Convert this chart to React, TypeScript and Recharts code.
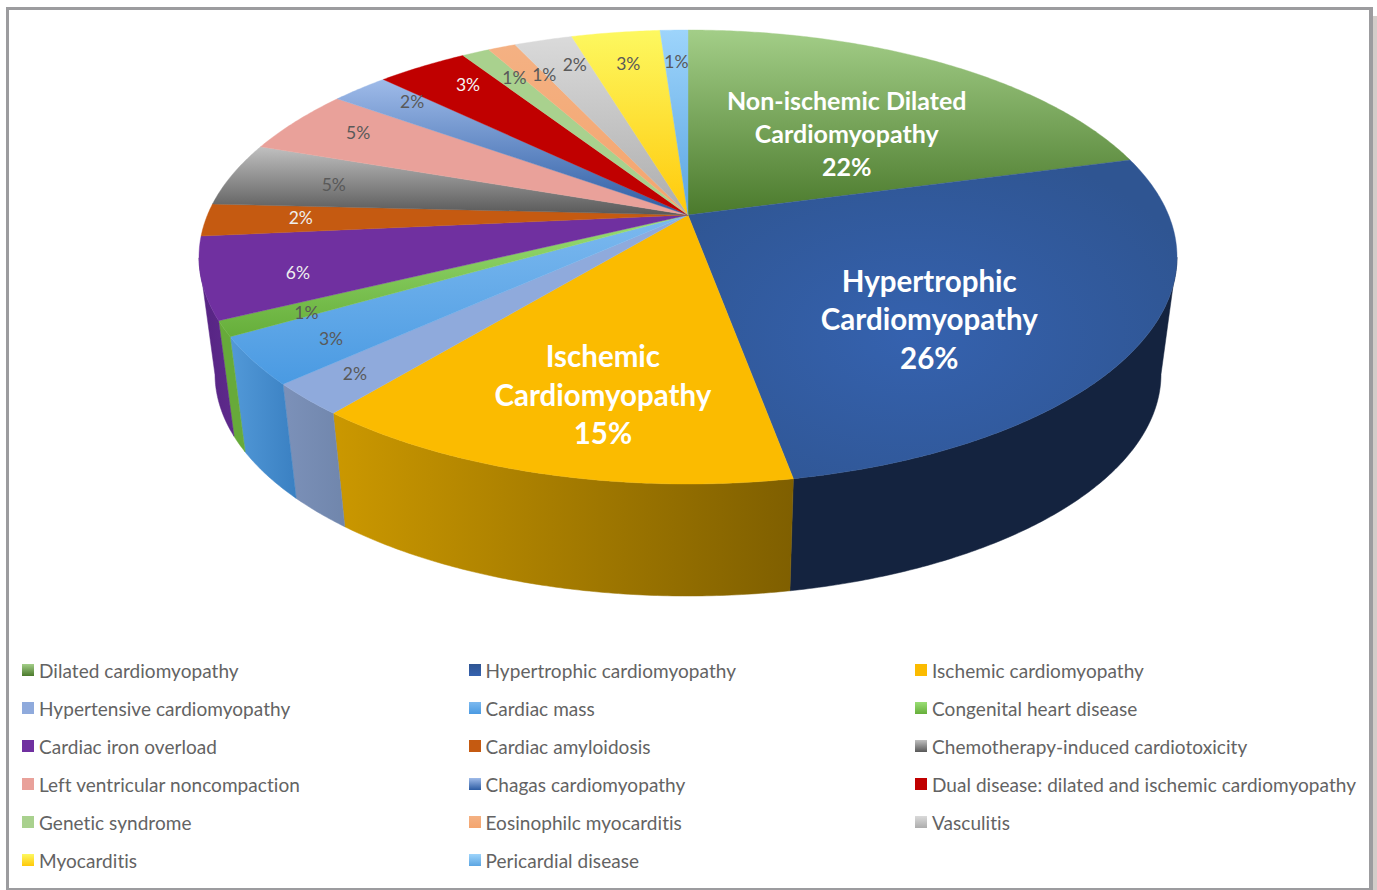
import { PieChart, Pie, Legend } from "recharts";

const legendNames = [
  "Dilated cardiomyopathy",
  "Hypertrophic cardiomyopathy",
  "Ischemic cardiomyopathy",
  "Hypertensive cardiomyopathy",
  "Cardiac mass",
  "Congenital heart disease",
  "Cardiac iron overload",
  "Cardiac amyloidosis",
  "Chemotherapy-induced cardiotoxicity",
  "Left ventricular noncompaction",
  "Chagas cardiomyopathy",
  "Dual disease: dilated and ischemic cardiomyopathy",
  "Genetic syndrome",
  "Eosinophilc myocarditis",
  "Vasculitis",
  "Myocarditis",
  "Pericardial disease",
];

// measured from the slice edges in the picture
const sliceValues = [20.76, 26.37, 13.77, 2.3, 3.4, 1.1, 5.8, 2.3, 4.56, 4.64, 2.3, 3.6, 1.1, 1.1, 2.3, 3.5, 1.1];

const percentLabels = [22, 26, 15, 2, 3, 1, 6, 2, 5, 5, 2, 3, 1, 1, 2, 3, 1];

const titleLines: Record<number, string[]> = {
  0: ["Non-ischemic Dilated", "Cardiomyopathy"],
  1: ["Hypertrophic", "Cardiomyopathy"],
  2: ["Ischemic", "Cardiomyopathy"],
};

// styling, one entry per slice
const topColors = [
  ["#a3ce88", "#4b7a2c"],
  ["#2f5592", "#3562af"],
  ["#fbbb00", "#fbbb00"],
  ["#8faadc", "#8faadc"],
  ["#7cb9ef", "#4a9ae2"],
  ["#9ade75", "#66ae3a"],
  ["#7030a0", "#7030a0"],
  ["#c55a11", "#c55a11"],
  ["#c0c0c0", "#585858"],
  ["#e9a19a", "#e9a19a"],
  ["#9fbbe9", "#2c5ca3"],
  ["#c00000", "#c00000"],
  ["#a9d18e", "#a9d18e"],
  ["#f4b183", "#f4a56e"],
  ["#dadada", "#adadad"],
  ["#fdf860", "#ffc90a"],
  ["#9dd4fb", "#5ba5e2"],
];
const wallColors = [
  ["#3f6625", "#3f6625"],
  ["#14233f", "#14233f"],
  ["#cb9800", "#7f5f00"],
  ["#7c91b9", "#7086ac"],
  ["#5299d8", "#3a80c2"],
  ["#67aa3a", "#67aa3a"],
  ["#552382", "#5e2a8c"],
];
const labelColors = [
  "#fff", "#fff", "#fff", "#595959", "#595959", "#595959", "#eee", "#eee", "#595959",
  "#595959", "#595959", "#f5f5f5", "#595959", "#595959", "#595959", "#595959", "#595959",
];
const labelRadius = [0.53, 0.637, 0.73, 0.885, 0.845, 0.842, 0.814, 0.804, 0.769, 0.8415, 0.853, 0.842, 0.818, 0.802, 0.829, 0.8, 0.8];
const labelTurn = [4.6, 11.4, -2.3, 0.3, -0.9, -1.2, -2.2, 0.3, -0.6, 1.1, 1.8, 1.6, 0.8, 1.8, 1.7, 0, 0];

const tableData = legendNames.map((name, i) => ({ name, value: sliceValues[i], fill: topColors[i][0] }));

const FONT = "Lato, 'Open Sans', sans-serif";
const RAD = Math.PI / 180;

// perspective: the pie centre sits above the middle of the rim ellipse
const TILT = 0.185;
const SQUASH = 227 / 489;
const BASE_RX = 473 / 489;
const BASE_RY = 222 / 489;
const BASE_DROP = 117;

function project(angle: number, r: number) {
  const ux = r * Math.cos(angle * RAD);
  const uy = -r * Math.sin(angle * RAD);
  const w = 1 - TILT * uy;
  return { x: (ux * Math.sqrt(1 - TILT * TILT)) / w, y: (uy - TILT) / w, uy };
}

function Slice(props: any) {
  const { cx, cy, outerRadius, startAngle, endAngle, name } = props;
  const i = legendNames.indexOf(name);
  const rx = outerRadius;
  const ry = outerRadius * SQUASH;
  const steps = Math.max(2, Math.ceil(Math.abs(endAngle - startAngle) * 2));
  const angles = Array.from({ length: steps + 1 }, (_, k) => startAngle + ((endAngle - startAngle) * k) / steps);

  const rim = angles.map((a) => {
    const p = project(a, 1);
    return `${cx + rx * p.x} ${cy + ry * p.y}`;
  });
  const apex = project(0, 0);
  const top = `M${cx + rx * apex.x} ${cy + ry * apex.y}L${rim.join("L")}Z`;

  // only the part of the side below the widest point of the rim is visible
  const front = angles.filter((a) => project(a, 1).y >= 0);
  let wall = "";
  if (front.length > 1) {
    const upper = front.map((a) => {
      const p = project(a, 1);
      return `${cx + rx * p.x} ${cy + ry * p.y}`;
    });
    const lower = front
      .map((a) => {
        const p = project(a, 1);
        return `${cx + rx * BASE_RX * p.x} ${cy + BASE_DROP + outerRadius * BASE_RY * p.y}`;
      })
      .reverse();
    wall = `M${upper.join("L")}L${lower.join("L")}Z`;
  }
  const wc = wallColors[i] || wallColors[0];

  return (
    <g>
      <defs>
        {i === 1 ? (
          <radialGradient id={`top-${i}`} cx="0.46" cy="0.55" r="0.62">
            <stop offset="0" stopColor={topColors[i][1]} />
            <stop offset="1" stopColor={topColors[i][0]} />
          </radialGradient>
        ) : (
          <linearGradient id={`top-${i}`} x1="0" y1="0" x2="0" y2="1">
            <stop offset="0" stopColor={topColors[i][0]} />
            <stop offset="1" stopColor={topColors[i][1]} />
          </linearGradient>
        )}
        <linearGradient id={`wall-${i}`} x1="0" y1="0" x2="1" y2="0">
          <stop offset="0" stopColor={wc[0]} />
          <stop offset="1" stopColor={wc[1]} />
        </linearGradient>
      </defs>
      {wall && <path d={wall} fill={`url(#wall-${i})`} stroke={`url(#wall-${i})`} strokeWidth={0.5} />}
      <path d={top} fill={`url(#top-${i})`} stroke={`url(#top-${i})`} strokeWidth={0.4} />
    </g>
  );
}

function SliceLabel(props: any) {
  const { cx, cy, outerRadius, midAngle, index } = props;
  const p = project(midAngle - labelTurn[index], labelRadius[index]);
  const x = cx + outerRadius * p.x;
  const y = cy + outerRadius * SQUASH * p.y;
  const percent = `${percentLabels[index]}%`;
  const title = titleLines[index];
  if (!title) {
    return (
      <text x={x} y={y} dy="0.35em" textAnchor="middle" fontFamily={FONT} fontSize={17.5} fill={labelColors[index]}>
        {percent}
      </text>
    );
  }
  const size = index === 0 ? 25 : 29.5;
  const gap = index === 0 ? 33 : 38.5;
  const lines = [...title, percent];
  return (
    <text textAnchor="middle" fontFamily={FONT} fontSize={size} fontWeight={700} fill={labelColors[index]}>
      {lines.map((line, k) => (
        <tspan key={line} x={x} y={y + (k - (lines.length - 1) / 2) * gap} dy="0.35em">
          {line}
        </tspan>
      ))}
    </text>
  );
}

function LegendGrid({ payload }: any) {
  return (
    <div style={{ display: "grid", gridTemplateColumns: "446.5px 446.5px auto", gridAutoRows: "38px", fontFamily: FONT }}>
      {(payload || []).map((entry: any, i: number) => (
        <div
          key={entry.value}
          style={{ display: "flex", alignItems: "center", whiteSpace: "nowrap", color: "#636363", fontSize: 19, letterSpacing: 0.05 }}
        >
          <span
            style={{
              width: 12,
              height: 12,
              marginRight: 5,
              flexShrink: 0,
              background: `linear-gradient(${topColors[i][0]}, ${topColors[i][1]})`,
            }}
          />
          {entry.value}
        </div>
      ))}
    </div>
  );
}

export default function App() {
  return (
    <div style={{ position: "absolute", left: 0, top: 0, width: 1377, height: 890, overflow: "hidden", background: "#fff" }}>
      <div style={{ position: "absolute", left: 1373, top: 16, width: 4, height: 874, background: "#d3cdc9" }} />
      <div
        style={{
          position: "absolute",
          left: 6,
          top: 7,
          width: 1367,
          height: 883,
          boxSizing: "border-box",
          borderStyle: "solid",
          borderColor: "#9c9c9f",
          borderWidth: "3px 4px 2px 3px",
        }}
      />
      <PieChart width={1377} height={890} margin={{ top: 0, right: 0, bottom: 0, left: 0 }}>
        <Pie
          data={tableData}
          dataKey="value"
          nameKey="name"
          cx={688}
          cy={257}
          outerRadius={489}
          startAngle={90}
          endAngle={-270}
          stroke="none"
          shape={Slice}
          label={SliceLabel}
          labelLine={false}
          isAnimationActive={false}
        />
        <Legend
          content={LegendGrid}
          itemSorter={null}
          wrapperStyle={{ position: "absolute", left: 22, top: 651, width: 1340, bottom: "auto" }}
        />
      </PieChart>
    </div>
  );
}
